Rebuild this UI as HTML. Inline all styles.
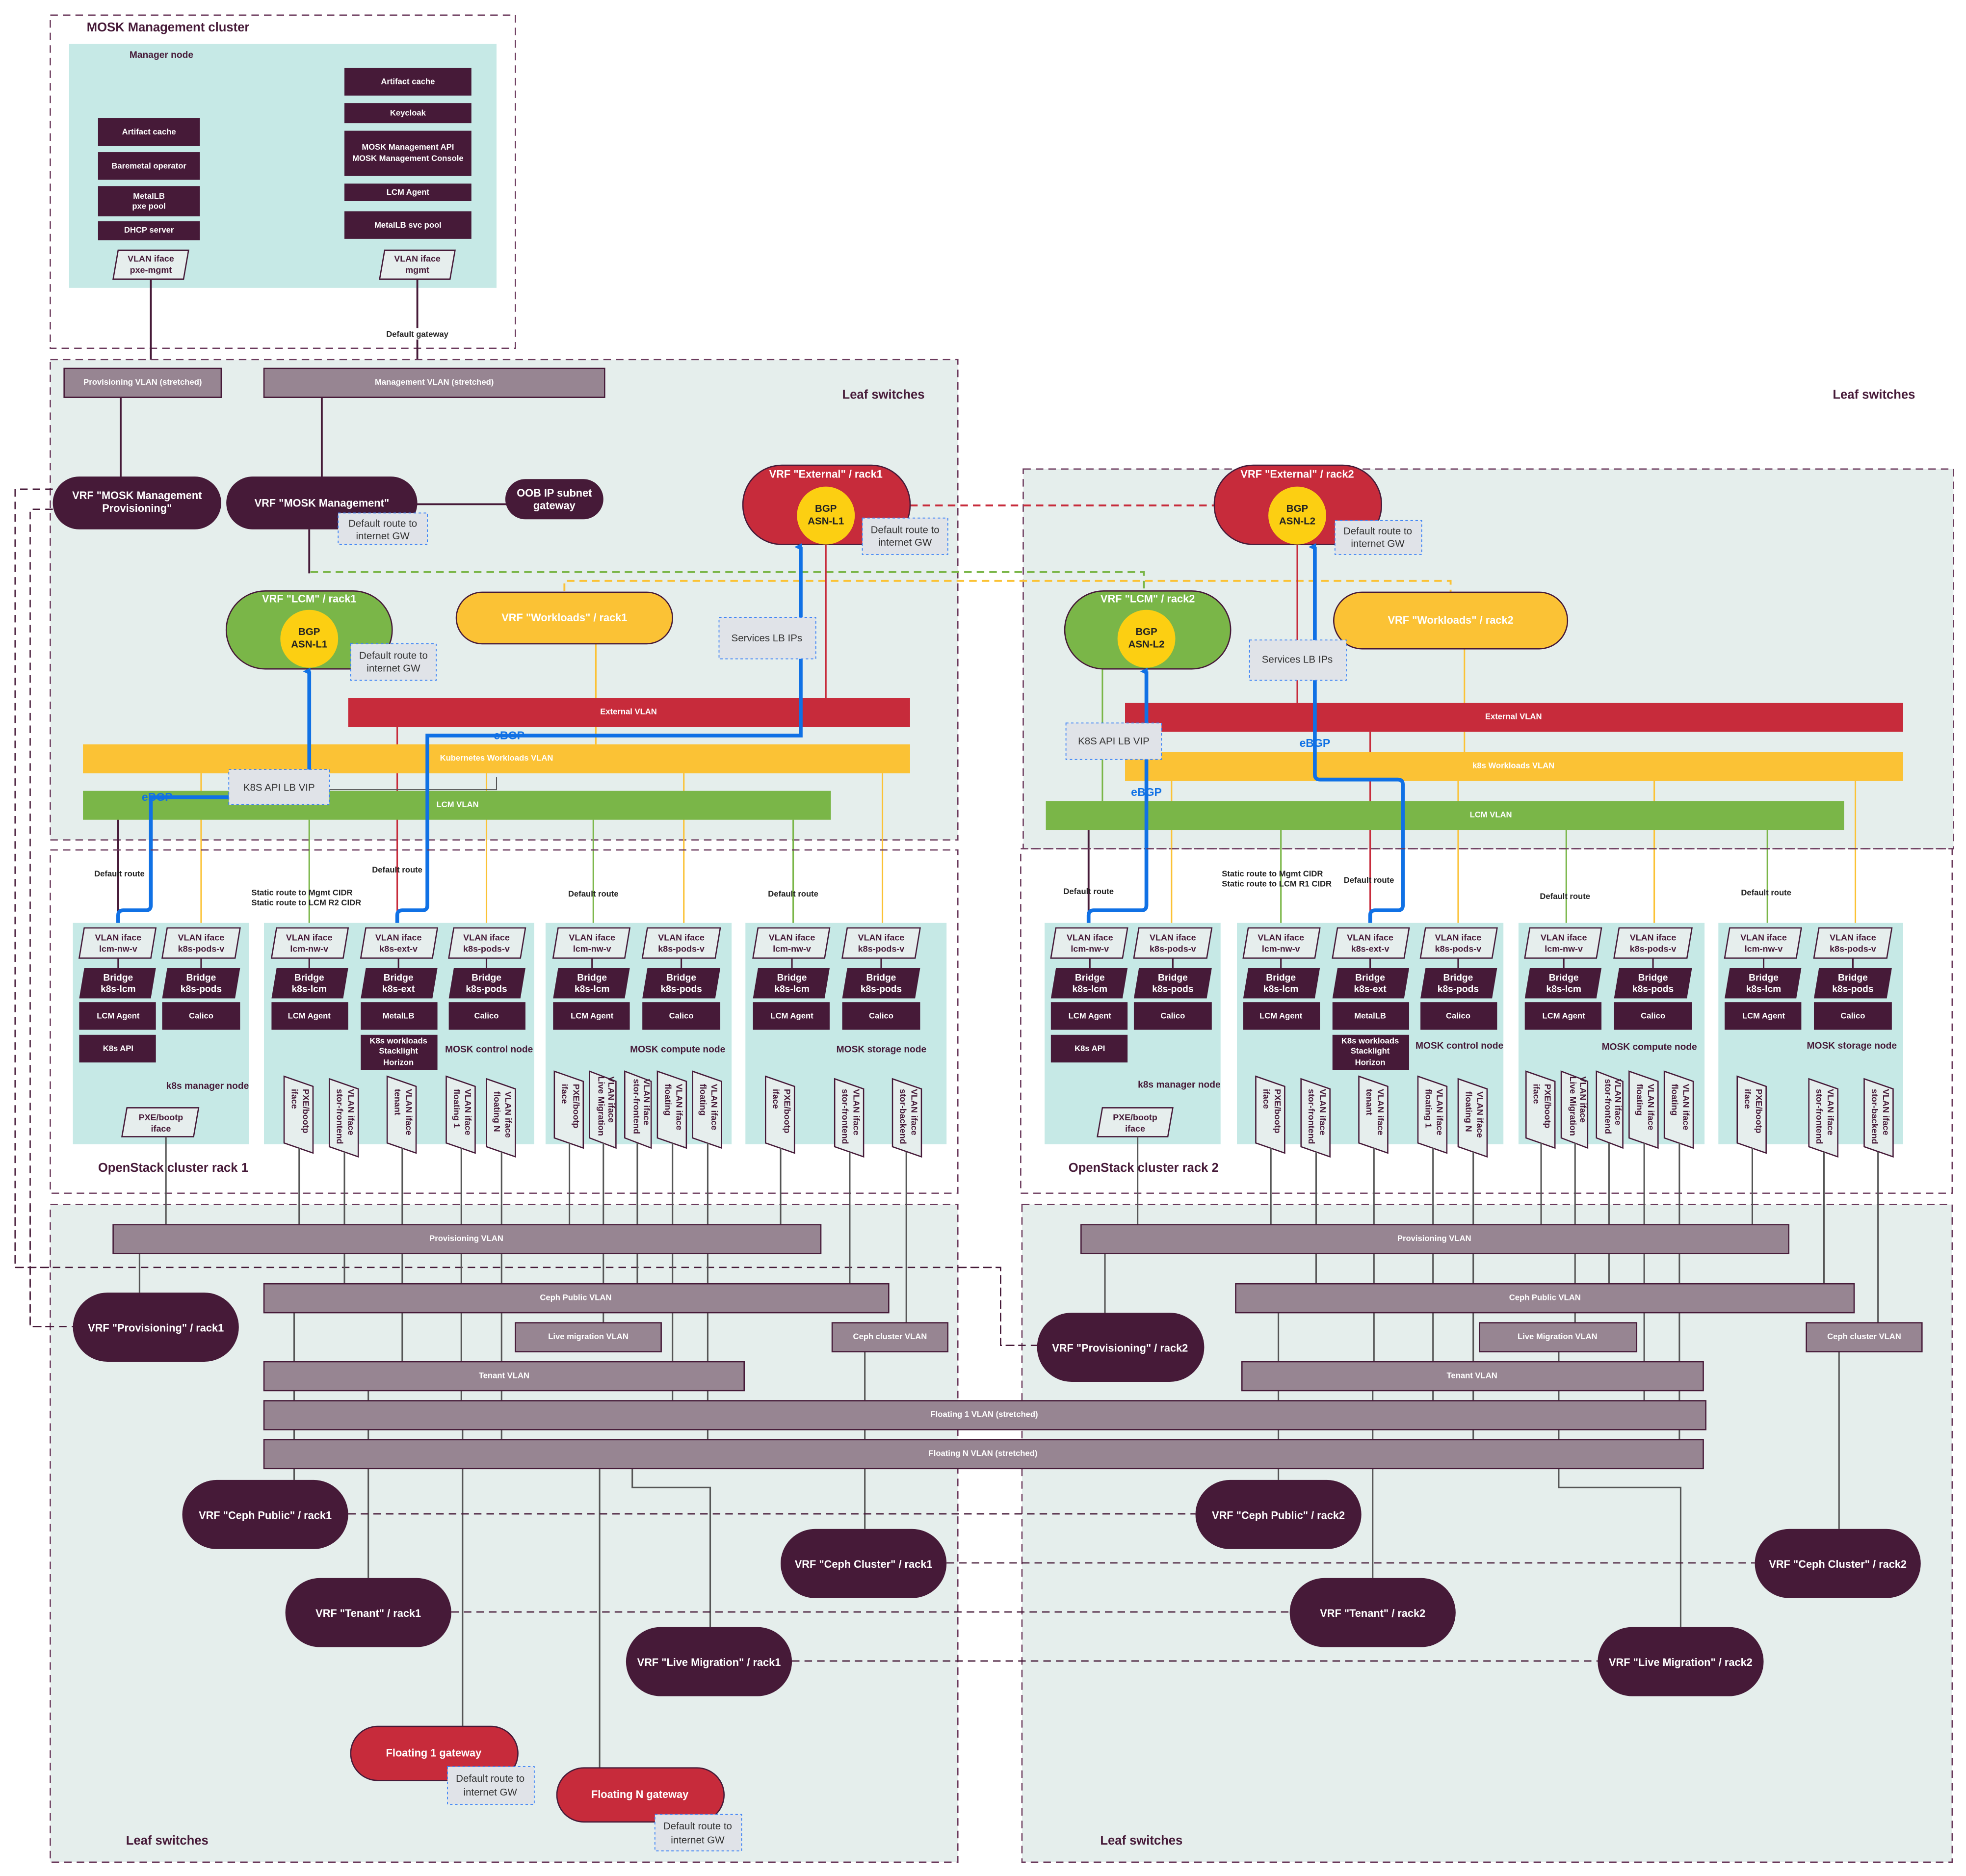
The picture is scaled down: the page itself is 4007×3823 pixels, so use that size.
<!DOCTYPE html>
<html><head><meta charset="utf-8"><style>
html,body{margin:0;padding:0;background:#fff}
svg{display:block}
text{font-family:"Liberation Sans",sans-serif;font-weight:bold}
.w{fill:#fff;text-anchor:middle}
.k{fill:#222;text-anchor:middle}
.p{fill:#461a38}
.n{fill:#461a38;font-size:7px;text-anchor:middle}
.vt{fill:#461a38;font-size:7px}
.vt text{text-anchor:start}
.ws{fill:#fff;font-size:6.5px;text-anchor:middle}
.if{fill:#e6eeed;stroke:#461a38;stroke-width:1}
.tl{fill:#c6e9e6}
.zone{fill:#e5eeec;stroke:#6b3a5c;stroke-width:1;stroke-dasharray:6 4}
.zb{fill:none;stroke:#6b3a5c;stroke-width:1;stroke-dasharray:6 4}
.bar{fill:#978592}
.note{fill:#e0e3e8;stroke:#3b82f6;stroke-width:.7;stroke-dasharray:2 2}
.nt{fill:#333;font-weight:normal;font-size:8px;text-anchor:middle}
.gl{stroke:#555;stroke-width:1.2;fill:none}
.dl{stroke:#461a38;stroke-width:1.5;fill:none}
.bl{stroke:#1071e5;stroke-width:3;fill:none}
.lab{fill:#222;font-size:6.5px}
.lab text{text-anchor:middle}
.lab text.st{text-anchor:start}
</style></head><body>
<svg width="4007" height="3823" viewBox="0 0 1564 1492" preserveAspectRatio="none" xmlns="http://www.w3.org/2000/svg">
<defs><marker id="ab" markerWidth="6" markerHeight="6" refX="3" refY="5" orient="auto-start-reverse" markerUnits="userSpaceOnUse"><path d="M0,6 L3,0 L6,6 Z" fill="#1071e5"/></marker></defs>

<rect x="40" y="12" width="370" height="265" class="zb"/>
<text x="69" y="25" class="p" font-size="10">MOSK Management cluster</text>
<rect x="55" y="35" width="340" height="194" class="tl"/>
<text x="103" y="46" class="p" font-size="7.5">Manager node</text>
<g>
<rect x="78" y="94" width="81" height="22" class="p"/><text x="118.5" y="107" class="ws">Artifact cache</text>
<rect x="78" y="121" width="81" height="22" class="p"/><text x="118.5" y="134" class="ws">Baremetal operator</text>
<rect x="78" y="148" width="81" height="24" class="p"/><text x="118.5" y="158" class="ws">MetalLB</text><text x="118.5" y="166" class="ws">pxe pool</text>
<rect x="78" y="176" width="81" height="15" class="p"/><text x="118.5" y="185" class="ws">DHCP server</text>
<rect x="274" y="54" width="101" height="22" class="p"/><text x="324.5" y="67" class="ws">Artifact cache</text>
<rect x="274" y="82" width="101" height="16" class="p"/><text x="324.5" y="92" class="ws">Keycloak</text>
<rect x="274" y="104" width="101" height="36" class="p"/><text x="324.5" y="119" class="ws">MOSK Management API</text><text x="324.5" y="128" class="ws">MOSK Management Console</text>
<rect x="274" y="146" width="101" height="14" class="p"/><text x="324.5" y="155" class="ws">LCM Agent</text>
<rect x="274" y="168" width="101" height="22" class="p"/><text x="324.5" y="181" class="ws">MetalLB svc pool</text>
<polygon points="94,199 150,199 146,222 90,222" class="if"/><text x="120" y="208" class="n">VLAN iface</text><text x="120" y="217" class="n">pxe-mgmt</text>
<polygon points="306,199 362,199 358,222 302,222" class="if"/><text x="332" y="208" class="n">VLAN iface</text><text x="332" y="217" class="n">mgmt</text>
</g>
<line x1="120" y1="222" x2="120" y2="293" class="dl"/>
<line x1="332" y1="222" x2="332" y2="293" class="dl"/>
<rect x="304" y="261" width="56" height="9" fill="#fff"/><text x="332" y="268" class="lab" text-anchor="middle">Default gateway</text>

<rect x="40" y="286" width="722" height="382" class="zone"/>
<text x="670" y="317" class="p" font-size="10">Leaf switches</text>
<text x="1458" y="317" class="p" font-size="10">Leaf switches</text>
<rect x="814" y="373" width="740" height="302" class="zone"/>

<path d="M724,402 H966" stroke="#c72b3b" stroke-width="1.5" stroke-dasharray="6 4" fill="none"/>
<path d="M247,455 H910 V470" stroke="#7ab648" stroke-width="1.5" stroke-dasharray="6 4" fill="none"/>
<path d="M449,470 V462 H1154 V471" stroke="#fbc235" stroke-width="1.5" stroke-dasharray="6 4" fill="none"/>
<path d="M42,389 H12 V1008 H796 V1070 H825" stroke="#461a38" stroke-width="1" stroke-dasharray="6 4" fill="none"/>
<path d="M42,405 H24 V1055 H58" stroke="#461a38" stroke-width="1" stroke-dasharray="6 4" fill="none"/>

<rect x="51" y="293" width="125" height="23" class="bar" stroke="#461a38"/><text x="113.5" y="306" class="ws">Provisioning VLAN (stretched)</text>
<rect x="210" y="293" width="271" height="23" class="bar" stroke="#461a38"/><text x="345.5" y="306" class="ws">Management VLAN (stretched)</text>
<line x1="96" y1="316" x2="96" y2="380" class="dl"/>
<line x1="256" y1="316" x2="256" y2="380" class="dl"/>
<line x1="330" y1="401" x2="403" y2="401" class="dl"/>
<line x1="246" y1="421" x2="246" y2="456" class="dl"/>
<rect x="42" y="379" width="134" height="42" rx="21" class="p"/><text x="109" y="397" class="w" font-size="8.5">VRF "MOSK Management</text><text x="109" y="407" class="w" font-size="8.5">Provisioning"</text>
<rect x="180" y="379" width="152" height="42" rx="21" class="p"/><text x="256" y="403" class="w" font-size="8.5">VRF "MOSK Management"</text>
<rect x="402" y="381" width="78" height="32" rx="16" class="p"/><text x="441" y="395" class="w" font-size="8.5">OOB IP subnet</text><text x="441" y="405" class="w" font-size="8.5">gateway</text>
<rect x="269" y="408" width="71" height="25" class="note"/><text x="304.5" y="419" class="nt">Default route to</text><text x="304.5" y="429" class="nt">internet GW</text>

<line x1="657" y1="433" x2="657" y2="555" stroke="#c72b3b" stroke-width="1.2"/>
<line x1="474" y1="512" x2="474" y2="592" stroke="#fbc235" stroke-width="1.2"/>
<line x1="316" y1="578" x2="316" y2="738" stroke="#c72b3b" stroke-width="1.2"/>
<line x1="160" y1="615" x2="160" y2="738" stroke="#fbc235" stroke-width="1.2"/>
<line x1="387" y1="615" x2="387" y2="738" stroke="#fbc235" stroke-width="1.2"/>
<line x1="544" y1="615" x2="544" y2="738" stroke="#fbc235" stroke-width="1.2"/>
<line x1="702" y1="615" x2="702" y2="738" stroke="#fbc235" stroke-width="1.2"/>
<line x1="246" y1="652" x2="246" y2="738" stroke="#7ab648" stroke-width="1.2"/>
<line x1="472" y1="652" x2="472" y2="738" stroke="#7ab648" stroke-width="1.2"/>
<line x1="631" y1="652" x2="631" y2="738" stroke="#7ab648" stroke-width="1.2"/>
<line x1="94" y1="652" x2="94" y2="738" class="dl"/>

<rect x="277" y="555" width="447" height="23" fill="#c72b3b"/><text x="500" y="568" class="ws">External VLAN</text>
<rect x="66" y="592" width="658" height="23" fill="#fbc235"/><text x="395" y="605" class="ws">Kubernetes Workloads VLAN</text>
<rect x="66" y="629" width="595" height="23" fill="#7ab648"/><text x="364" y="642" class="ws">LCM VLAN</text>
<path d="M262,628 H395 V618" stroke="#555" stroke-width="0.8" fill="none"/>

<rect x="591" y="370" width="133" height="63" rx="31" fill="#c72b3b" stroke="#461a38"/><text x="657" y="380" class="w" font-size="8.5">VRF "External" / rack1</text>
<circle cx="657" cy="410" r="23" fill="#fccf12"/><text x="657" y="407" class="k" font-size="8" font-weight="normal">BGP</text><text x="657" y="417" class="k" font-size="8" font-weight="normal">ASN-L1</text>
<rect x="686" y="412" width="68" height="29" class="note"/><text x="720" y="424" class="nt">Default route to</text><text x="720" y="434" class="nt">internet GW</text>

<rect x="180" y="470" width="132" height="62" rx="31" fill="#7ab648" stroke="#461a38"/><text x="246" y="479" class="w" font-size="8.5">VRF "LCM" / rack1</text>
<circle cx="246" cy="508" r="23" fill="#fccf12"/><text x="246" y="505" class="k" font-size="8" font-weight="normal">BGP</text><text x="246" y="515" class="k" font-size="8" font-weight="normal">ASN-L1</text>
<rect x="279" y="512" width="68" height="29" class="note"/><text x="313" y="524" class="nt">Default route to</text><text x="313" y="534" class="nt">internet GW</text>
<rect x="363" y="471" width="172" height="41" rx="20.5" fill="#fbc235" stroke="#461a38"/><text x="449" y="494" class="w" font-size="8.5">VRF "Workloads" / rack1</text>

<path d="M94,738 V728 Q94,724 98,724 H116 Q120,724 120,720 V634 H246 V534" class="bl" marker-end="url(#ab)"/>
<path d="M316,738 V728 Q316,724 320,724 H336 Q340,724 340,720 V585 H637 V435" class="bl" marker-end="url(#ab)"/>
<rect x="572" y="491" width="77" height="33" class="note"/><text x="610" y="510" class="nt" font-size="8.5">Services LB IPs</text>
<rect x="182" y="612" width="80" height="28" class="note"/><text x="222" y="629" class="nt" font-size="8.5">K8S API LB VIP</text>
<text x="405" y="588" fill="#1071e5" font-size="9" text-anchor="middle">eBGP</text>
<text x="125" y="637" fill="#1071e5" font-size="9" text-anchor="middle">eBGP</text>

<line x1="1032" y1="433" x2="1032" y2="559" stroke="#c72b3b" stroke-width="1.2"/>
<line x1="1165" y1="516" x2="1165" y2="598" stroke="#fbc235" stroke-width="1.2"/>
<line x1="877" y1="532" x2="877" y2="637" stroke="#7ab648" stroke-width="1.2"/>
<line x1="1090" y1="582" x2="1090" y2="738" stroke="#c72b3b" stroke-width="1.2"/>
<line x1="932" y1="621" x2="932" y2="738" stroke="#fbc235" stroke-width="1.2"/>
<line x1="1160" y1="621" x2="1160" y2="738" stroke="#fbc235" stroke-width="1.2"/>
<line x1="1316" y1="621" x2="1316" y2="738" stroke="#fbc235" stroke-width="1.2"/>
<line x1="1476" y1="621" x2="1476" y2="738" stroke="#fbc235" stroke-width="1.2"/>
<line x1="1019" y1="660" x2="1019" y2="738" stroke="#7ab648" stroke-width="1.2"/>
<line x1="1246" y1="660" x2="1246" y2="738" stroke="#7ab648" stroke-width="1.2"/>
<line x1="1406" y1="660" x2="1406" y2="738" stroke="#7ab648" stroke-width="1.2"/>
<line x1="866" y1="660" x2="866" y2="738" class="dl"/>

<rect x="895" y="559" width="619" height="23" fill="#c72b3b"/><text x="1204" y="572" class="ws">External VLAN</text>
<rect x="895" y="598" width="619" height="23" fill="#fbc235"/><text x="1204" y="611" class="ws">k8s Workloads VLAN</text>
<rect x="832" y="637" width="635" height="23" fill="#7ab648"/><text x="1186" y="650" class="ws">LCM VLAN</text>

<rect x="966" y="370" width="133" height="63" rx="31" fill="#c72b3b" stroke="#461a38"/><text x="1032" y="380" class="w" font-size="8.5">VRF "External" / rack2</text>
<circle cx="1032" cy="410" r="23" fill="#fccf12"/><text x="1032" y="407" class="k" font-size="8" font-weight="normal">BGP</text><text x="1032" y="417" class="k" font-size="8" font-weight="normal">ASN-L2</text>
<rect x="1062" y="414" width="69" height="27" class="note"/><text x="1096" y="425" class="nt">Default route to</text><text x="1096" y="435" class="nt">internet GW</text>
<rect x="847" y="470" width="132" height="62" rx="31" fill="#7ab648" stroke="#461a38"/><text x="913" y="479" class="w" font-size="8.5">VRF "LCM" / rack2</text>
<circle cx="912" cy="508" r="23" fill="#fccf12"/><text x="912" y="505" class="k" font-size="8" font-weight="normal">BGP</text><text x="912" y="515" class="k" font-size="8" font-weight="normal">ASN-L2</text>
<rect x="1061" y="471" width="186" height="45" rx="22.5" fill="#fbc235" stroke="#461a38"/><text x="1154" y="496" class="w" font-size="8.5">VRF "Workloads" / rack2</text>

<path d="M866,738 V728 Q866,724 870,724 H908 Q912,724 912,720 V534" class="bl" marker-end="url(#ab)"/>
<path d="M1090,738 V728 Q1090,724 1094,724 H1112 Q1116,724 1116,720 V624 Q1116,620 1112,620 H1050 Q1046,620 1046,616 V435" class="bl" marker-end="url(#ab)"/>
<rect x="994" y="509" width="77" height="32" class="note"/><text x="1032" y="527" class="nt" font-size="8.5">Services LB IPs</text>
<rect x="848" y="575" width="76" height="29" class="note"/><text x="886" y="592" class="nt" font-size="8.5">K8S API LB VIP</text>
<text x="1046" y="594" fill="#1071e5" font-size="9" text-anchor="middle">eBGP</text>
<text x="912" y="633" fill="#1071e5" font-size="9" text-anchor="middle">eBGP</text>

<rect x="40" y="676" width="722" height="273" class="zb"/>
<rect x="812" y="675" width="741" height="274" class="zb"/>

<g class="lab">
<text x="95" y="697">Default route</text>
<text x="200" y="712" class="st">Static route to Mgmt CIDR</text>
<text x="200" y="720" class="st">Static route to LCM R2 CIDR</text>
<text x="316" y="694">Default route</text>
<text x="472" y="713">Default route</text>
<text x="631" y="713">Default route</text>
<text x="866" y="711">Default route</text>
<text x="972" y="697" class="st">Static route to Mgmt CIDR</text>
<text x="972" y="705" class="st">Static route to LCM R1 CIDR</text>
<text x="1089" y="702">Default route</text>
<text x="1245" y="715">Default route</text>
<text x="1405" y="712">Default route</text>
</g>

<g id="r1">
<rect x="58" y="734" width="140" height="176" class="tl"/>
<rect x="210" y="734" width="215" height="176" class="tl"/>
<rect x="434" y="734" width="148" height="176" class="tl"/>
<rect x="593" y="734" width="160" height="176" class="tl"/>
<g stroke="#461a38" stroke-width="1.2">
<line x1="94" y1="762" x2="94" y2="770"/><line x1="160" y1="762" x2="160" y2="770"/>
<line x1="246" y1="762" x2="246" y2="770"/><line x1="317" y1="762" x2="317" y2="770"/><line x1="387" y1="762" x2="387" y2="770"/>
<line x1="471" y1="762" x2="471" y2="770"/><line x1="542" y1="762" x2="542" y2="770"/>
<line x1="630" y1="762" x2="630" y2="770"/><line x1="701" y1="762" x2="701" y2="770"/>
</g>
<polygon points="67,738 124,738 120,762 63,762" class="if"/><text x="94" y="748" class="n">VLAN iface</text><text x="94" y="757" class="n">lcm-nw-v</text>
<polygon points="133,738 191,738 187,762 129,762" class="if"/><text x="160" y="748" class="n">VLAN iface</text><text x="160" y="757" class="n">k8s-pods-v</text>
<polygon points="220,738 277,738 273,762 216,762" class="if"/><text x="246" y="748" class="n">VLAN iface</text><text x="246" y="757" class="n">lcm-nw-v</text>
<polygon points="291,738 348,738 344,762 287,762" class="if"/><text x="317" y="748" class="n">VLAN iface</text><text x="317" y="757" class="n">k8s-ext-v</text>
<polygon points="361,738 418,738 414,762 357,762" class="if"/><text x="387" y="748" class="n">VLAN iface</text><text x="387" y="757" class="n">k8s-pods-v</text>
<polygon points="444,738 501,738 497,762 440,762" class="if"/><text x="471" y="748" class="n">VLAN iface</text><text x="471" y="757" class="n">lcm-nw-v</text>
<polygon points="515,738 573,738 569,762 511,762" class="if"/><text x="542" y="748" class="n">VLAN iface</text><text x="542" y="757" class="n">k8s-pods-v</text>
<polygon points="603,738 660,738 656,762 599,762" class="if"/><text x="630" y="748" class="n">VLAN iface</text><text x="630" y="757" class="n">lcm-nw-v</text>
<polygon points="674,738 732,738 728,762 670,762" class="if"/><text x="701" y="748" class="n">VLAN iface</text><text x="701" y="757" class="n">k8s-pods-v</text>
<g class="p">
<polygon points="67,770 124,770 120,794 63,794"/><polygon points="133,770 191,770 187,794 129,794"/>
<polygon points="220,770 277,770 273,794 216,794"/><polygon points="291,770 348,770 344,794 287,794"/><polygon points="361,770 418,770 414,794 357,794"/>
<polygon points="444,770 501,770 497,794 440,794"/><polygon points="515,770 573,770 569,794 511,794"/>
<polygon points="603,770 660,770 656,794 599,794"/><polygon points="674,770 732,770 728,794 670,794"/>
<rect x="63" y="797" width="61" height="22"/><rect x="129" y="797" width="62" height="22"/><rect x="63" y="823" width="61" height="22"/>
<rect x="216" y="797" width="61" height="22"/><rect x="287" y="797" width="61" height="22"/><rect x="357" y="797" width="61" height="22"/><rect x="287" y="823" width="61" height="28"/>
<rect x="440" y="797" width="61" height="22"/><rect x="511" y="797" width="62" height="22"/>
<rect x="599" y="797" width="61" height="22"/><rect x="670" y="797" width="62" height="22"/>
</g>
<g class="w" font-size="7.5">
<text x="94" y="780">Bridge</text><text x="94" y="789">k8s-lcm</text>
<text x="160" y="780">Bridge</text><text x="160" y="789">k8s-pods</text>
<text x="246" y="780">Bridge</text><text x="246" y="789">k8s-lcm</text>
<text x="317" y="780">Bridge</text><text x="317" y="789">k8s-ext</text>
<text x="387" y="780">Bridge</text><text x="387" y="789">k8s-pods</text>
<text x="471" y="780">Bridge</text><text x="471" y="789">k8s-lcm</text>
<text x="542" y="780">Bridge</text><text x="542" y="789">k8s-pods</text>
<text x="630" y="780">Bridge</text><text x="630" y="789">k8s-lcm</text>
<text x="701" y="780">Bridge</text><text x="701" y="789">k8s-pods</text>
</g>
<g class="ws">
<text x="94" y="810">LCM Agent</text><text x="160" y="810">Calico</text><text x="94" y="836">K8s API</text>
<text x="246" y="810">LCM Agent</text><text x="317" y="810">MetalLB</text><text x="387" y="810">Calico</text>
<text x="317" y="830">K8s workloads</text><text x="317" y="838">Stacklight</text><text x="317" y="847">Horizon</text>
<text x="471" y="810">LCM Agent</text><text x="542" y="810">Calico</text>
<text x="630" y="810">LCM Agent</text><text x="701" y="810">Calico</text>
</g>
<g class="p" font-size="7.5" text-anchor="end">
<text x="198" y="866">k8s manager node</text>
<text x="424" y="837">MOSK control node</text>
<text x="577" y="837">MOSK compute node</text>
<text x="737" y="837">MOSK storage node</text>
</g>
<polygon points="101,881 158,881 154,904 97,904" class="if"/><text x="128" y="891" class="n">PXE/bootp</text><text x="128" y="900" class="n">iface</text>
<g class="if">
<polygon points="226,856 249,864 249,917 226,909"/>
<polygon points="262,858 285,866 285,920 262,912"/>
<polygon points="308,856 331,864 331,917 308,909"/>
<polygon points="355,856 378,864 378,917 355,909"/>
<polygon points="387,858 410,866 410,920 387,912"/>
<polygon points="441,852 464,860 464,913 441,905"/>
<polygon points="469,852 490,860 490,913 469,905"/>
<polygon points="497,852 518,860 518,913 497,905"/>
<polygon points="523,852 546,860 546,913 523,905"/>
<polygon points="551,852 574,860 574,913 551,905"/>
<polygon points="609,856 632,864 632,917 609,909"/>
<polygon points="664,858 687,866 687,920 664,912"/>
<polygon points="710,858 733,866 733,920 710,912"/>
</g>
<g class="vt">
<text transform="translate(241,866) rotate(90)">PXE/bootp</text><text transform="translate(232,866) rotate(90)">iface</text>
<text transform="translate(277,866) rotate(90)">VLAN iface</text><text transform="translate(268,866) rotate(90)">stor-frontend</text>
<text transform="translate(323,866) rotate(90)">VLAN iface</text><text transform="translate(314,866) rotate(90)">tenant</text>
<text transform="translate(370,866) rotate(90)">VLAN iface</text><text transform="translate(361,866) rotate(90)">floating 1</text>
<text transform="translate(402,868) rotate(90)">VLAN iface</text><text transform="translate(393,868) rotate(90)">floating N</text>
<text transform="translate(456,862) rotate(90)">PXE/bootp</text><text transform="translate(447,862) rotate(90)">iface</text>
<text transform="translate(484,856) rotate(90)">VLAN iface</text><text transform="translate(476,856) rotate(90)">Live Migration</text>
<text transform="translate(512,858) rotate(90)">VLAN iface</text><text transform="translate(504,858) rotate(90)">stor-frontend</text>
<text transform="translate(538,862) rotate(90)">VLAN iface</text><text transform="translate(529,862) rotate(90)">floating</text>
<text transform="translate(566,862) rotate(90)">VLAN iface</text><text transform="translate(557,862) rotate(90)">floating</text>
<text transform="translate(624,866) rotate(90)">PXE/bootp</text><text transform="translate(615,866) rotate(90)">iface</text>
<text transform="translate(679,866) rotate(90)">VLAN iface</text><text transform="translate(670,866) rotate(90)">stor-frontend</text>
<text transform="translate(725,866) rotate(90)">VLAN iface</text><text transform="translate(716,866) rotate(90)">stor-backend</text>
</g>
</g>

<g transform="translate(773,0)">
<rect x="58" y="734" width="140" height="176" class="tl"/>
<rect x="211" y="734" width="212" height="176" class="tl"/>
<rect x="435" y="734" width="148" height="176" class="tl"/>
<rect x="594" y="734" width="147" height="176" class="tl"/>
<g stroke="#461a38" stroke-width="1.2">
<line x1="94" y1="762" x2="94" y2="770"/><line x1="160" y1="762" x2="160" y2="770"/>
<line x1="246" y1="762" x2="246" y2="770"/><line x1="317" y1="762" x2="317" y2="770"/><line x1="387" y1="762" x2="387" y2="770"/>
<line x1="471" y1="762" x2="471" y2="770"/><line x1="542" y1="762" x2="542" y2="770"/>
<line x1="630" y1="762" x2="630" y2="770"/><line x1="701" y1="762" x2="701" y2="770"/>
</g>
<polygon points="67,738 124,738 120,762 63,762" class="if"/><text x="94" y="748" class="n">VLAN iface</text><text x="94" y="757" class="n">lcm-nw-v</text>
<polygon points="133,738 191,738 187,762 129,762" class="if"/><text x="160" y="748" class="n">VLAN iface</text><text x="160" y="757" class="n">k8s-pods-v</text>
<polygon points="220,738 277,738 273,762 216,762" class="if"/><text x="246" y="748" class="n">VLAN iface</text><text x="246" y="757" class="n">lcm-nw-v</text>
<polygon points="291,738 348,738 344,762 287,762" class="if"/><text x="317" y="748" class="n">VLAN iface</text><text x="317" y="757" class="n">k8s-ext-v</text>
<polygon points="361,738 418,738 414,762 357,762" class="if"/><text x="387" y="748" class="n">VLAN iface</text><text x="387" y="757" class="n">k8s-pods-v</text>
<polygon points="444,738 501,738 497,762 440,762" class="if"/><text x="471" y="748" class="n">VLAN iface</text><text x="471" y="757" class="n">lcm-nw-v</text>
<polygon points="515,738 573,738 569,762 511,762" class="if"/><text x="542" y="748" class="n">VLAN iface</text><text x="542" y="757" class="n">k8s-pods-v</text>
<polygon points="603,738 660,738 656,762 599,762" class="if"/><text x="630" y="748" class="n">VLAN iface</text><text x="630" y="757" class="n">lcm-nw-v</text>
<polygon points="674,738 732,738 728,762 670,762" class="if"/><text x="701" y="748" class="n">VLAN iface</text><text x="701" y="757" class="n">k8s-pods-v</text>
<g class="p">
<polygon points="67,770 124,770 120,794 63,794"/><polygon points="133,770 191,770 187,794 129,794"/>
<polygon points="220,770 277,770 273,794 216,794"/><polygon points="291,770 348,770 344,794 287,794"/><polygon points="361,770 418,770 414,794 357,794"/>
<polygon points="444,770 501,770 497,794 440,794"/><polygon points="515,770 573,770 569,794 511,794"/>
<polygon points="603,770 660,770 656,794 599,794"/><polygon points="674,770 732,770 728,794 670,794"/>
<rect x="63" y="797" width="61" height="22"/><rect x="129" y="797" width="62" height="22"/><rect x="63" y="823" width="61" height="22"/>
<rect x="216" y="797" width="61" height="22"/><rect x="287" y="797" width="61" height="22"/><rect x="357" y="797" width="61" height="22"/><rect x="287" y="823" width="61" height="28"/>
<rect x="440" y="797" width="61" height="22"/><rect x="511" y="797" width="62" height="22"/>
<rect x="599" y="797" width="61" height="22"/><rect x="670" y="797" width="62" height="22"/>
</g>
<g class="w" font-size="7.5">
<text x="94" y="780">Bridge</text><text x="94" y="789">k8s-lcm</text>
<text x="160" y="780">Bridge</text><text x="160" y="789">k8s-pods</text>
<text x="246" y="780">Bridge</text><text x="246" y="789">k8s-lcm</text>
<text x="317" y="780">Bridge</text><text x="317" y="789">k8s-ext</text>
<text x="387" y="780">Bridge</text><text x="387" y="789">k8s-pods</text>
<text x="471" y="780">Bridge</text><text x="471" y="789">k8s-lcm</text>
<text x="542" y="780">Bridge</text><text x="542" y="789">k8s-pods</text>
<text x="630" y="780">Bridge</text><text x="630" y="789">k8s-lcm</text>
<text x="701" y="780">Bridge</text><text x="701" y="789">k8s-pods</text>
</g>
<g class="ws">
<text x="94" y="810">LCM Agent</text><text x="160" y="810">Calico</text><text x="94" y="836">K8s API</text>
<text x="246" y="810">LCM Agent</text><text x="317" y="810">MetalLB</text><text x="387" y="810">Calico</text>
<text x="317" y="830">K8s workloads</text><text x="317" y="838">Stacklight</text><text x="317" y="847">Horizon</text>
<text x="471" y="810">LCM Agent</text><text x="542" y="810">Calico</text>
<text x="630" y="810">LCM Agent</text><text x="701" y="810">Calico</text>
</g>
<g class="p" font-size="7.5" text-anchor="end">
<text x="198" y="865">k8s manager node</text>
<text x="423" y="834">MOSK control node</text>
<text x="577" y="835">MOSK compute node</text>
<text x="736" y="834">MOSK storage node</text>
</g>
<polygon points="104,881 160,881 156,904 100,904" class="if"/><text x="130" y="891" class="n">PXE/bootp</text><text x="130" y="900" class="n">iface</text>
<g class="if">
<polygon points="226,856 249,864 249,917 226,909"/>
<polygon points="262,858 285,866 285,920 262,912"/>
<polygon points="308,856 331,864 331,917 308,909"/>
<polygon points="355,856 378,864 378,917 355,909"/>
<polygon points="387,858 410,866 410,920 387,912"/>
<polygon points="441,852 464,860 464,913 441,905"/>
<polygon points="469,852 490,860 490,913 469,905"/>
<polygon points="497,852 518,860 518,913 497,905"/>
<polygon points="523,852 546,860 546,913 523,905"/>
<polygon points="551,852 574,860 574,913 551,905"/>
<polygon points="609,856 632,864 632,917 609,909"/>
<polygon points="666,858 689,866 689,920 666,912"/>
<polygon points="710,858 733,866 733,920 710,912"/>
</g>
<g class="vt">
<text transform="translate(241,866) rotate(90)">PXE/bootp</text><text transform="translate(232,866) rotate(90)">iface</text>
<text transform="translate(277,866) rotate(90)">VLAN iface</text><text transform="translate(268,866) rotate(90)">stor-frontend</text>
<text transform="translate(323,866) rotate(90)">VLAN iface</text><text transform="translate(314,866) rotate(90)">tenant</text>
<text transform="translate(370,866) rotate(90)">VLAN iface</text><text transform="translate(361,866) rotate(90)">floating 1</text>
<text transform="translate(402,868) rotate(90)">VLAN iface</text><text transform="translate(393,868) rotate(90)">floating N</text>
<text transform="translate(456,862) rotate(90)">PXE/bootp</text><text transform="translate(447,862) rotate(90)">iface</text>
<text transform="translate(484,856) rotate(90)">VLAN iface</text><text transform="translate(476,856) rotate(90)">Live Migration</text>
<text transform="translate(512,858) rotate(90)">VLAN iface</text><text transform="translate(504,858) rotate(90)">stor-frontend</text>
<text transform="translate(538,862) rotate(90)">VLAN iface</text><text transform="translate(529,862) rotate(90)">floating</text>
<text transform="translate(566,862) rotate(90)">VLAN iface</text><text transform="translate(557,862) rotate(90)">floating</text>
<text transform="translate(624,866) rotate(90)">PXE/bootp</text><text transform="translate(615,866) rotate(90)">iface</text>
<text transform="translate(681,866) rotate(90)">VLAN iface</text><text transform="translate(672,866) rotate(90)">stor-frontend</text>
<text transform="translate(725,866) rotate(90)">VLAN iface</text><text transform="translate(716,866) rotate(90)">stor-backend</text>
</g>
</g>

<text x="78" y="932" class="p" font-size="10">OpenStack cluster rack 1</text>
<text x="850" y="932" class="p" font-size="10">OpenStack cluster rack 2</text>

<rect x="40" y="958" width="722" height="523" class="zone"/>
<rect x="813" y="958" width="740" height="523" class="zone"/>
<path d="M12,958 V1008 H796 V1070 H825 M24,958 V1055 H58" stroke="#461a38" stroke-width="1" stroke-dasharray="6 4" fill="none"/>

<g class="gl">
<line x1="132" y1="904" x2="132" y2="974"/>
<line x1="238" y1="913" x2="238" y2="974"/><line x1="274" y1="916" x2="274" y2="1021"/><line x1="320" y1="913" x2="320" y2="1083"/>
<line x1="367" y1="913" x2="367" y2="1114"/><line x1="399" y1="916" x2="399" y2="1145"/>
<line x1="453" y1="909" x2="453" y2="974"/><line x1="480" y1="909" x2="480" y2="1052"/><line x1="507" y1="909" x2="507" y2="1021"/>
<line x1="535" y1="909" x2="535" y2="1114"/><line x1="563" y1="909" x2="563" y2="1145"/>
<line x1="621" y1="913" x2="621" y2="974"/><line x1="676" y1="916" x2="676" y2="1021"/><line x1="721" y1="916" x2="721" y2="1052"/>
<line x1="905" y1="904" x2="905" y2="974"/>
<line x1="1011" y1="913" x2="1011" y2="974"/><line x1="1047" y1="916" x2="1047" y2="1021"/><line x1="1093" y1="913" x2="1093" y2="1083"/>
<line x1="1140" y1="913" x2="1140" y2="1114"/><line x1="1172" y1="916" x2="1172" y2="1145"/>
<line x1="1226" y1="909" x2="1226" y2="974"/><line x1="1253" y1="909" x2="1253" y2="1052"/><line x1="1280" y1="909" x2="1280" y2="1021"/>
<line x1="1308" y1="909" x2="1308" y2="1114"/><line x1="1336" y1="909" x2="1336" y2="1145"/>
<line x1="1394" y1="913" x2="1394" y2="974"/><line x1="1451" y1="916" x2="1451" y2="1021"/><line x1="1494" y1="916" x2="1494" y2="1052"/>
<line x1="111" y1="997" x2="111" y2="1028"/>
<line x1="234" y1="1044" x2="234" y2="1177"/>
<line x1="293" y1="1106" x2="293" y2="1255"/>
<line x1="688" y1="1075" x2="688" y2="1216"/>
<path d="M503,1168 V1183 H565 V1294"/>
<line x1="368" y1="1137" x2="368" y2="1373"/>
<line x1="477" y1="1168" x2="477" y2="1406"/>
<line x1="879" y1="997" x2="879" y2="1044"/>
<line x1="1017" y1="1044" x2="1017" y2="1177"/>
<line x1="1092" y1="1106" x2="1092" y2="1255"/>
<line x1="1463" y1="1075" x2="1463" y2="1216"/>
<path d="M1240,1075 V1183 H1337 V1294"/>
</g>

<g>
<rect x="90" y="974" width="563" height="23" class="bar" stroke="#461a38"/><text x="371" y="987" class="ws">Provisioning VLAN</text>
<rect x="860" y="974" width="563" height="23" class="bar" stroke="#461a38"/><text x="1141" y="987" class="ws">Provisioning VLAN</text>
<rect x="210" y="1021" width="497" height="23" class="bar" stroke="#461a38"/><text x="458" y="1034" class="ws">Ceph Public VLAN</text>
<rect x="983" y="1021" width="492" height="23" class="bar" stroke="#461a38"/><text x="1229" y="1034" class="ws">Ceph Public VLAN</text>
<rect x="410" y="1052" width="116" height="23" class="bar" stroke="#461a38"/><text x="468" y="1065" class="ws">Live migration  VLAN</text>
<rect x="1177" y="1052" width="125" height="23" class="bar" stroke="#461a38"/><text x="1239" y="1065" class="ws">Live Migration  VLAN</text>
<rect x="662" y="1052" width="92" height="23" class="bar" stroke="#461a38"/><text x="708" y="1065" class="ws">Ceph cluster VLAN</text>
<rect x="1437" y="1052" width="92" height="23" class="bar" stroke="#461a38"/><text x="1483" y="1065" class="ws">Ceph cluster VLAN</text>
<rect x="210" y="1083" width="382" height="23" class="bar" stroke="#461a38"/><text x="401" y="1096" class="ws">Tenant  VLAN</text>
<rect x="988" y="1083" width="367" height="23" class="bar" stroke="#461a38"/><text x="1171" y="1096" class="ws">Tenant  VLAN</text>
<rect x="210" y="1114" width="1147" height="23" class="bar" stroke="#461a38"/><text x="783" y="1127" class="ws">Floating 1 VLAN (stretched)</text>
<rect x="210" y="1145" width="1145" height="23" class="bar" stroke="#461a38"/><text x="782" y="1158" class="ws">Floating N VLAN (stretched)</text>
</g>

<g stroke="#461a38" stroke-width="1" stroke-dasharray="6 4" fill="none">
<line x1="277" y1="1204" x2="951" y2="1204"/>
<line x1="753" y1="1243" x2="1396" y2="1243"/>
<line x1="359" y1="1282" x2="1026" y2="1282"/>
<line x1="630" y1="1321" x2="1271" y2="1321"/>
</g>

<g class="p">
<rect x="58" y="1028" width="132" height="55" rx="27.5"/>
<rect x="825" y="1044" width="133" height="55" rx="27.5"/>
<rect x="145" y="1177" width="132" height="55" rx="27.5"/>
<rect x="951" y="1177" width="132" height="55" rx="27.5"/>
<rect x="621" y="1216" width="132" height="55" rx="27.5"/>
<rect x="1396" y="1216" width="132" height="55" rx="27.5"/>
<rect x="227" y="1255" width="132" height="55" rx="27.5"/>
<rect x="1026" y="1255" width="132" height="55" rx="27.5"/>
<rect x="498" y="1294" width="132" height="55" rx="27.5"/>
<rect x="1271" y="1294" width="132" height="55" rx="27.5"/>
</g>
<g class="w" font-size="8.5">
<text x="124" y="1059">VRF "Provisioning" / rack1</text>
<text x="891" y="1075">VRF "Provisioning" / rack2</text>
<text x="211" y="1208">VRF "Ceph Public" / rack1</text>
<text x="1017" y="1208">VRF "Ceph Public" / rack2</text>
<text x="687" y="1247">VRF "Ceph Cluster" / rack1</text>
<text x="1462" y="1247">VRF "Ceph Cluster" / rack2</text>
<text x="293" y="1286">VRF "Tenant" / rack1</text>
<text x="1092" y="1286">VRF "Tenant" / rack2</text>
<text x="564" y="1325">VRF "Live Migration" / rack1</text>
<text x="1337" y="1325">VRF "Live Migration" / rack2</text>
</g>
<rect x="279" y="1373" width="133" height="43" rx="21.5" fill="#c72b3b" stroke="#461a38"/><text x="345" y="1397" class="w" font-size="8.5">Floating 1 gateway</text>
<rect x="443" y="1406" width="133" height="43" rx="21.5" fill="#c72b3b" stroke="#461a38"/><text x="509" y="1430" class="w" font-size="8.5">Floating N gateway</text>
<rect x="356" y="1405" width="69" height="30" class="note"/><text x="390" y="1417" class="nt">Default route to</text><text x="390" y="1428" class="nt">internet GW</text>
<rect x="521" y="1443" width="69" height="29" class="note"/><text x="555" y="1455" class="nt">Default route to</text><text x="555" y="1466" class="nt">internet GW</text>
<text x="133" y="1467" class="p" font-size="10" text-anchor="middle">Leaf switches</text>
<text x="908" y="1467" class="p" font-size="10" text-anchor="middle">Leaf switches</text>
</svg>
</body></html>
